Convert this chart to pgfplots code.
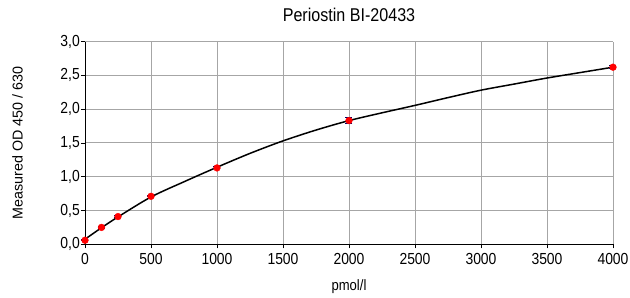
\documentclass[border=0pt]{standalone}
\usepackage{fontspec}
\setmainfont{Liberation Sans}[FakeStretch=0.87]
\newfontfamily\ylfont{Liberation Sans}
\usepackage{pgfplots}
\pgfplotsset{compat=1.18}
\usepackage{pgfplotstable}
\pgfplotstableread{
x y err
0 0.06 0.01
125 0.25 0.01
250 0.41 0.01
500 0.71 0.01
1000 1.13 0.015
2000 1.83 0.05
4000 2.62 0.02
}\points
\pgfplotstableread{
x y
0 0.075
125 0.245
250 0.405
500 0.70
750 0.925
1000 1.14
1250 1.345
1500 1.53
1750 1.69
2000 1.83
2250 1.945
2500 2.055
2750 2.17
3000 2.28
3250 2.37
3500 2.46
3750 2.54
4000 2.62
}\curve
\begin{document}
\begin{tikzpicture}
\begin{axis}[
  scale only axis,
  width=528pt, height=202.8pt,
  at={(0,0)}, anchor=south west,
  xmin=0, xmax=4000, ymin=0, ymax=3,
  xtick={0,500,...,4000}, ytick={0,0.5,...,3},
  axis x line*=bottom, axis y line*=left,
  axis line style={black, line width=0.9pt, -},
  tick align=outside, major tick length=4pt,
  tick style={black, line width=0.8pt},
  grid=major,
  major grid style={gray!70, line width=0.9pt},
  /pgf/number format/assume math mode=true,
  x tick label style={/pgf/number format/1000 sep={}, font=\fontsize{16}{19}\selectfont, inner sep=1pt, yshift=-4pt},
  y tick label style={/pgf/number format/.cd, use comma, fixed, fixed zerofill, precision=1, /tikz/.cd, font=\fontsize{16}{19}\selectfont, inner sep=1pt},
  title={Periostin BI-20433},
  title style={font=\fontsize{18.5}{22}\selectfont, at={(axis description cs:0.5,1.07)}, anchor=base},
  xlabel={pmol/l},
  xlabel style={font=\fontsize{15}{18}\selectfont, at={(axis description cs:0.5,-0.2283)}, anchor=base},
  ylabel={Measured OD 450 / 630},
  ylabel style={font=\ylfont\fontsize{14.3}{17}\selectfont, at={(axis description cs:-0.128,0.5)}, anchor=center},
  clip=false,
]
\addplot[black, line width=1.5pt, smooth, no marks] table[x=x, y=y] {\curve};
\addplot[only marks, mark=*, mark size=3.4pt, mark options={fill=red, draw=red},
  error bars/.cd, y dir=both, y explicit,
  error bar style={color=blue!40!black, line width=1pt},
  error mark options={rotate=90, mark size=3.5pt, line width=1pt, color=blue!40!black}]
  table[x=x, y=y, y error=err] {\points};
\end{axis}
\path (-85pt,-49.7pt) rectangle (545pt,244.3pt);
\end{tikzpicture}
\end{document}
